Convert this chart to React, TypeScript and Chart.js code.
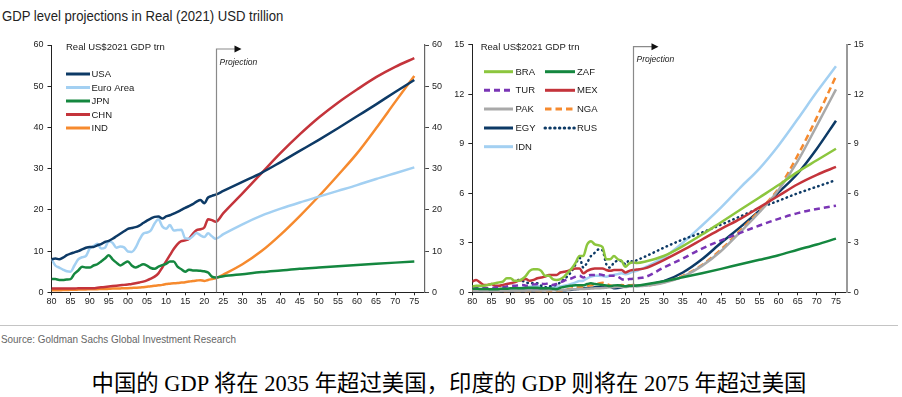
import React, { useEffect, useRef } from "react";
import { Chart, registerables } from "chart.js";

Chart.register(...registerables);

// ---------- DATA ----------
const years = [
  1980, 1981, 1982, 1983, 1984, 1985, 1986, 1987, 1988, 1989,
  1990, 1991, 1992, 1993, 1994, 1995, 1996, 1997, 1998, 1999,
  2000, 2001, 2002, 2003, 2004, 2005, 2006, 2007, 2008, 2009,
  2010, 2011, 2012, 2013, 2014, 2015, 2016, 2017, 2018, 2019,
  2020, 2021, 2022, 2023,
  2025, 2030, 2035, 2040, 2045, 2050, 2055, 2060, 2065, 2070, 2075,
];
const xTickValues = [1980, 1985, 1990, 1995, 2000, 2005, 2010, 2015, 2020, 2025, 2030, 2035, 2040, 2045, 2050, 2055, 2060, 2065, 2070, 2075];
const leftYTicks = [0, 10, 20, 30, 40, 50, 60];
const rightYTicks = [0, 3, 6, 9, 12, 15];
const leftProjectionYear = 2023;
const rightProjectionYear = 2022;

// Left panel (Real US$2021 GDP trn)
const usa = [
  8.0, 8.2, 8.0, 8.4, 9.0, 9.4, 9.7, 10.0, 10.4, 10.8,
  11.0, 11.0, 11.4, 11.7, 12.2, 12.5, 13.0, 13.6, 14.2, 14.8,
  15.4, 15.6, 15.8, 16.2, 16.8, 17.4, 17.9, 18.3, 18.4, 17.9,
  18.4, 18.7, 19.1, 19.5, 20.0, 20.5, 20.9, 21.4, 22.0, 22.4,
  21.6, 23.0, 23.4, 23.7,
  24.6, 26.8, 29.0, 31.6, 34.3, 37.0, 39.8, 42.7, 45.6, 48.6, 51.5,
];
const euroArea = [
  8.1, 6.5, 6.0, 5.5, 5.1, 5.0, 6.5, 8.0, 8.5, 8.8,
  10.6, 11.2, 11.8, 10.6, 10.8, 12.4, 12.0, 10.8, 11.1, 10.9,
  9.9, 9.8, 10.8, 12.7, 14.2, 14.5, 15.0, 16.7, 17.7, 16.0,
  15.4, 16.3, 15.0, 15.1, 15.2, 13.1, 13.0, 13.6, 14.4, 13.8,
  13.4, 14.3, 13.6, 13.0,
  14.1, 16.5, 18.6, 20.3, 21.8, 23.2, 24.6, 26.0, 27.5, 28.9, 30.3,
];
const jpn = [
  3.2, 3.2, 3.0, 3.0, 3.1, 3.2, 4.5, 5.3, 6.2, 6.0,
  6.0, 6.5, 6.8, 7.5, 8.2, 9.0, 8.0, 7.2, 6.5, 7.0,
  7.5, 6.5, 6.0, 6.4, 6.8, 6.5, 5.9, 5.7, 6.2, 6.6,
  6.9, 7.5, 7.5, 6.2, 5.6, 5.0, 5.5, 5.3, 5.3, 5.2,
  5.1, 4.8, 3.8, 3.6,
  3.9, 4.4, 4.9, 5.3, 5.7, 6.0, 6.3, 6.6, 6.9, 7.2, 7.5,
];
const chn = [
  0.9, 0.9, 0.9, 0.9, 0.9, 0.9, 0.9, 1.0, 1.0, 1.0,
  1.0, 1.0, 1.1, 1.2, 1.3, 1.4, 1.5, 1.6, 1.7, 1.8,
  1.9, 2.0, 2.2, 2.4, 2.6, 2.9, 3.3, 3.8, 4.6, 6.0,
  7.5, 9.0, 10.5, 11.7, 12.4, 12.6, 13.0, 14.2, 15.1, 15.3,
  15.7, 17.7, 17.5, 17.1,
  19.2, 24.0, 28.9, 33.8, 38.3, 42.4, 46.0, 49.2, 52.2, 54.7, 56.8,
];
const ind = [
  0.5, 0.5, 0.5, 0.55, 0.55, 0.6, 0.6, 0.65, 0.7, 0.7,
  0.75, 0.75, 0.75, 0.8, 0.8, 0.85, 0.9, 0.9, 0.95, 1.0,
  1.0, 1.05, 1.1, 1.15, 1.25, 1.35, 1.45, 1.6, 1.7, 1.8,
  2.0, 2.1, 2.2, 2.25, 2.35, 2.45, 2.6, 2.75, 2.85, 2.95,
  2.75, 3.0, 3.2, 3.4,
  4.3, 6.8, 10.0, 14.0, 18.5, 23.3, 28.4, 33.7, 39.8, 46.2, 52.5,
];

// Right panel (Real US$2021 GDP trn)
const bra = [
  0.35, 0.4, 0.4, 0.4, 0.45, 0.5, 0.55, 0.6, 0.65, 0.85,
  0.85, 0.7, 0.7, 0.8, 1.0, 1.3, 1.4, 1.4, 1.3, 1.0,
  1.0, 0.8, 0.75, 0.8, 0.95, 1.2, 1.45, 1.8, 2.2, 2.2,
  2.9, 3.1, 2.9, 2.85, 2.75, 2.0, 2.0, 2.2, 2.0, 1.9,
  1.55, 1.75, 1.8, 1.78,
  1.85, 2.2, 2.8, 3.5, 4.25, 5.0, 5.75, 6.5, 7.3, 8.0, 8.7,
];
const zaf = [
  0.2, 0.22, 0.2, 0.2, 0.2, 0.18, 0.18, 0.2, 0.22, 0.22,
  0.24, 0.25, 0.25, 0.25, 0.26, 0.28, 0.27, 0.27, 0.24, 0.24,
  0.24, 0.22, 0.2, 0.28, 0.33, 0.37, 0.4, 0.43, 0.42, 0.42,
  0.5, 0.55, 0.5, 0.47, 0.45, 0.42, 0.38, 0.42, 0.43, 0.4,
  0.36, 0.4, 0.4, 0.41,
  0.47, 0.67, 0.91, 1.16, 1.42, 1.7, 1.97, 2.25, 2.58, 2.9, 3.25,
];
const tur = [
  0.25, 0.25, 0.24, 0.24, 0.25, 0.26, 0.28, 0.3, 0.3, 0.35,
  0.4, 0.4, 0.42, 0.45, 0.4, 0.45, 0.48, 0.5, 0.52, 0.5,
  0.55, 0.45, 0.5, 0.6, 0.7, 0.8, 0.85, 0.95, 1.0, 0.9,
  1.0, 1.05, 1.05, 1.1, 1.05, 1.0, 1.0, 1.0, 0.95, 0.8,
  0.75, 0.8, 0.82, 0.85,
  0.91, 1.5, 2.05, 2.65, 3.15, 3.6, 4.05, 4.45, 4.8, 5.05, 5.25,
];
const mex = [
  0.65, 0.75, 0.6, 0.45, 0.45, 0.5, 0.4, 0.4, 0.45, 0.5,
  0.55, 0.6, 0.7, 0.75, 0.8, 0.7, 0.75, 0.85, 0.9, 0.95,
  1.05, 1.05, 1.05, 1.2, 1.25, 1.3, 1.4, 1.45, 1.45, 1.15,
  1.3, 1.4, 1.45, 1.45, 1.45, 1.35, 1.3, 1.35, 1.35, 1.35,
  1.2, 1.3, 1.35, 1.38,
  1.45, 1.95, 2.55, 3.2, 3.85, 4.45, 5.15, 5.85, 6.55, 7.12, 7.6,
];
const pak = [
  0.06, 0.06, 0.07, 0.07, 0.07, 0.08, 0.08, 0.08, 0.09, 0.09,
  0.09, 0.1, 0.1, 0.1, 0.1, 0.11, 0.11, 0.11, 0.11, 0.11,
  0.12, 0.12, 0.12, 0.13, 0.15, 0.16, 0.18, 0.19, 0.2, 0.2,
  0.21, 0.23, 0.24, 0.25, 0.26, 0.28, 0.3, 0.31, 0.33, 0.32,
  0.32, 0.35, 0.37, 0.38,
  0.4, 0.58, 0.95, 1.6, 2.5, 3.65, 4.85, 6.2, 7.95, 10.1, 12.3,
];
const nga = [
  0.12, 0.1, 0.08, 0.07, 0.06, 0.06, 0.05, 0.04, 0.04, 0.04,
  0.05, 0.05, 0.04, 0.04, 0.04, 0.05, 0.06, 0.06, 0.05, 0.05,
  0.06, 0.07, 0.08, 0.1, 0.13, 0.18, 0.23, 0.27, 0.33, 0.3,
  0.38, 0.42, 0.47, 0.53, 0.58, 0.5, 0.42, 0.38, 0.4, 0.44,
  0.42, 0.42, 0.45, 0.42,
  0.42, 0.6, 1.0, 1.65, 2.6, 3.75, 4.95, 6.3, 8.3, 10.6, 13.1,
];
const egy = [
  0.05, 0.06, 0.07, 0.07, 0.08, 0.08, 0.08, 0.08, 0.09, 0.09,
  0.08, 0.08, 0.09, 0.09, 0.1, 0.11, 0.12, 0.13, 0.14, 0.15,
  0.16, 0.16, 0.14, 0.13, 0.13, 0.14, 0.16, 0.19, 0.22, 0.24,
  0.26, 0.27, 0.3, 0.3, 0.3, 0.33, 0.34, 0.24, 0.26, 0.3,
  0.36, 0.4, 0.4, 0.38,
  0.42, 0.67, 1.2, 2.0, 3.0, 3.95, 4.95, 6.05, 7.2, 8.7, 10.4,
];
const rus = [
  null, null, null, null, null, null, null, null, null, null,
  null, null, 0.75, 0.7, 0.6, 0.55, 0.55, 0.55, 0.4, 0.3,
  0.35, 0.4, 0.45, 0.6, 0.8, 1.0, 1.3, 1.7, 2.1, 1.5,
  1.8, 2.2, 2.4, 2.6, 2.55, 1.7, 1.5, 1.8, 1.9, 1.9,
  1.7, 1.95, 1.85, 1.95,
  2.15, 2.7, 3.2, 3.62, 4.1, 4.6, 5.1, 5.55, 6.0, 6.4, 6.8,
];
const idn = [
  0.13, 0.15, 0.15, 0.15, 0.16, 0.16, 0.16, 0.17, 0.18, 0.2,
  0.22, 0.24, 0.26, 0.28, 0.31, 0.34, 0.38, 0.4, 0.26, 0.26,
  0.28, 0.29, 0.32, 0.36, 0.4, 0.45, 0.52, 0.6, 0.68, 0.7,
  0.85, 0.95, 1.0, 1.0, 0.98, 0.95, 1.0, 1.05, 1.1, 1.15,
  1.1, 1.15, 1.25, 1.3,
  1.5, 2.1, 3.0, 4.05, 5.15, 6.35, 7.5, 8.9, 10.5, 12.15, 13.7,
];

// ---------- STYLES ----------
const NAVY = "#0d3a66";
const LIGHTBLUE = "#a3d0f2";
const DKGREEN = "#14873f";
const RED = "#c4343b";
const ORANGE = "#f68a2e";
const LTGREEN = "#8cc63e";
const PURPLE = "#7a35b5";
const GRAY = "#a9a9a9";

const FONT = '"Liberation Sans", Arial, sans-serif';

function series(label: string, values: (number | null)[], color: string, extra: any = {}) {
  return {
    label,
    data: years.map((yr, i) => ({ x: yr, y: values[i] })),
    borderColor: color,
    backgroundColor: color,
    borderWidth: 2.5,
    pointRadius: 0,
    fill: false,
    cubicInterpolationMode: "monotone",
    spanGaps: false,
    ...extra,
  };
}

function legendPlugin(cfg: any) {
  return {
    id: "insideLegend",
    afterDraw(chart: any) {
      const ctx = chart.ctx;
      ctx.save();
      ctx.textBaseline = "middle";
      ctx.textAlign = "left";
      ctx.fillStyle = "#1a1a1a";
      ctx.font = `9.5px ${FONT}`;
      ctx.fillText(cfg.title, cfg.titleX, cfg.titleY);
      cfg.items.forEach((it: any) => {
        const ds = chart.data.datasets[it.i];
        ctx.strokeStyle = ds.borderColor;
        ctx.lineWidth = 3;
        ctx.lineCap = ds.borderCapStyle || "butt";
        ctx.setLineDash(ds.borderDash || []);
        ctx.beginPath();
        ctx.moveTo(it.x1, it.y);
        ctx.lineTo(it.x2, it.y);
        ctx.stroke();
        ctx.setLineDash([]);
        ctx.fillStyle = "#1a1a1a";
        ctx.fillText(ds.label, it.tx, it.y + 0.5);
      });
      ctx.restore();
    },
  };
}

function projectionPlugin(year: number, topY: number, textY: number) {
  return {
    id: "projection",
    afterDatasetsDraw(chart: any) {
      const ctx = chart.ctx;
      const x = Math.round(chart.scales.x.getPixelForValue(year)) + 0.5;
      const bottom = chart.chartArea.bottom;
      ctx.save();
      ctx.strokeStyle = "#8a8a8a";
      ctx.lineWidth = 1.2;
      ctx.beginPath();
      ctx.moveTo(x, bottom);
      ctx.lineTo(x, topY);
      ctx.lineTo(x + 19, topY);
      ctx.stroke();
      ctx.fillStyle = "#111";
      ctx.beginPath();
      ctx.moveTo(x + 18, topY - 3.5);
      ctx.lineTo(x + 25, topY);
      ctx.lineTo(x + 18, topY + 3.5);
      ctx.closePath();
      ctx.fill();
      ctx.font = `italic 8.5px ${FONT}`;
      ctx.fillStyle = "#222";
      ctx.textBaseline = "middle";
      ctx.fillText("Projection", x + 3, textY);
      ctx.restore();
    },
  };
}

function buildOptions(p: any) {
  const tickFont = { family: FONT, size: 9 };
  return {
    responsive: false,
    animation: false,
    devicePixelRatio: 1,
    events: [],
    layout: { padding: { top: p.padTop, left: 0, right: 0, bottom: 0 } },
    plugins: { legend: { display: false }, tooltip: { enabled: false }, title: { display: false } },
    scales: {
      x: {
        type: "linear",
        min: 1980,
        max: 2077.8,
        afterBuildTicks: (s: any) => {
          s.ticks = xTickValues.map((v) => ({ value: v }));
        },
        afterFit: (s: any) => {
          s.height = p.xHeight;
        },
        ticks: {
          autoSkip: false,
          maxRotation: 0,
          padding: 1,
          color: "#222",
          font: tickFont,
          callback: (v: any) => String(Number(v) % 100).padStart(2, "0"),
        },
        grid: { display: true, drawOnChartArea: false, drawTicks: true, tickLength: 3, color: "#222", lineWidth: 1 },
        border: { display: true, color: "#222", width: 1 },
      },
      y: {
        type: "linear",
        position: "left",
        min: 0,
        max: p.yMax,
        afterBuildTicks: (s: any) => {
          s.ticks = p.yTicks.map((v: number) => ({ value: v }));
        },
        afterFit: (s: any) => {
          s.width = p.leftW;
        },
        ticks: { padding: 4, color: "#222", font: tickFont },
        grid: { display: true, drawOnChartArea: false, drawTicks: true, tickLength: 4, color: "#222" },
        border: { display: true, color: "#222", width: 1 },
      },
      y2: {
        type: "linear",
        position: "right",
        min: 0,
        max: p.yMax,
        afterBuildTicks: (s: any) => {
          s.ticks = p.yTicks.map((v: number) => ({ value: v }));
        },
        afterFit: (s: any) => {
          s.width = p.rightW;
        },
        ticks: { padding: 3, color: "#222", font: tickFont },
        grid: { display: true, drawOnChartArea: false, drawTicks: true, tickLength: 4, color: "#444" },
        border: { display: true, color: p.rightAxisColor, width: p.rightAxisWidth },
      },
    },
  };
}

function useChart(ref: any, makeConfig: () => any) {
  useEffect(() => {
    if (!ref.current) return;
    const chart = new Chart(ref.current, makeConfig());
    return () => chart.destroy();
  }, []);
}

export default function App() {
  const leftRef = useRef<HTMLCanvasElement>(null);
  const rightRef = useRef<HTMLCanvasElement>(null);

  useChart(leftRef, () => ({
    type: "line",
    data: {
      datasets: [
        series("USA", usa, NAVY),
        series("Euro Area", euroArea, LIGHTBLUE),
        series("JPN", jpn, DKGREEN),
        series("CHN", chn, RED),
        series("IND", ind, ORANGE),
      ],
    },
    options: buildOptions({
      padTop: 15,
      xHeight: 22.7,
      leftW: 51.5,
      rightW: 25,
      yMax: 60,
      yTicks: leftYTicks,
      rightAxisColor: "#666",
      rightAxisWidth: 1.2,
    }),
    plugins: [
      projectionPlugin(leftProjectionYear, 19, 32.7),
      legendPlugin({
        title: "Real US$2021 GDP trn",
        titleX: 66,
        titleY: 17.5,
        items: [
          { i: 0, x1: 66, x2: 90, tx: 91.5, y: 44 },
          { i: 1, x1: 66, x2: 90, tx: 91.5, y: 57.5 },
          { i: 2, x1: 66, x2: 90, tx: 91.5, y: 71 },
          { i: 3, x1: 66, x2: 90, tx: 91.5, y: 84.5 },
          { i: 4, x1: 66, x2: 90, tx: 91.5, y: 98 },
        ],
      }),
    ],
  }));

  useChart(rightRef, () => ({
    type: "line",
    data: {
      datasets: [
        series("BRA", bra, LTGREEN),
        series("ZAF", zaf, DKGREEN),
        series("TUR", tur, PURPLE, { borderDash: [6, 4] }),
        series("MEX", mex, RED),
        series("PAK", pak, GRAY),
        series("NGA", nga, ORANGE, { borderDash: [6.5, 4] }),
        series("EGY", egy, NAVY),
        series("RUS", rus, NAVY, { borderDash: [0.5, 4.3], borderCapStyle: "round" }),
        series("IDN", idn, LIGHTBLUE),
      ],
    },
    options: buildOptions({
      padTop: 14.8,
      xHeight: 22.7,
      leftW: 22.3,
      rightW: 55.3,
      yMax: 15,
      yTicks: rightYTicks,
      rightAxisColor: "#9a9a9a",
      rightAxisWidth: 2,
    }),
    plugins: [
      projectionPlugin(rightProjectionYear, 16.7, 30),
      legendPlugin({
        title: "Real US$2021 GDP trn",
        titleX: 30.7,
        titleY: 17,
        items: [
          { i: 0, x1: 34, x2: 63, tx: 65.5, y: 41.7 },
          { i: 1, x1: 95, x2: 125, tx: 127, y: 41.7 },
          { i: 2, x1: 34, x2: 63, tx: 65.5, y: 60.3 },
          { i: 3, x1: 95, x2: 125, tx: 127, y: 60.3 },
          { i: 4, x1: 34, x2: 63, tx: 65.5, y: 79 },
          { i: 5, x1: 95, x2: 125, tx: 127, y: 79 },
          { i: 6, x1: 34, x2: 63, tx: 65.5, y: 98 },
          { i: 7, x1: 95, x2: 125, tx: 127, y: 98 },
          { i: 8, x1: 34, x2: 63, tx: 65.5, y: 116.7 },
        ],
      }),
    ],
  }));

  return (
    <div style={{ position: "absolute", left: 0, top: 0, width: 902, height: 397, background: "#fff", overflow: "hidden" }}>
      <div
        style={{
          position: "absolute",
          left: 2,
          top: 6,
          fontFamily: FONT,
          fontSize: 15,
          lineHeight: "20px",
          color: "#222",
          whiteSpace: "nowrap",
          transform: "scaleX(0.875)",
          transformOrigin: "left center",
        }}
      >
        GDP level projections in Real (2021) USD trillion
      </div>
      <canvas ref={leftRef} width={450} height={285} style={{ position: "absolute", left: 0, top: 30, width: 450, height: 285 }} />
      <canvas ref={rightRef} width={452} height={285} style={{ position: "absolute", left: 450, top: 30, width: 452, height: 285 }} />
      <div style={{ position: "absolute", left: 0, top: 324.5, width: 898, height: 1, background: "#c4c4c4" }} />
      <div
        style={{
          position: "absolute",
          left: 1,
          top: 332,
          fontFamily: FONT,
          fontSize: 11,
          lineHeight: "14px",
          color: "#666",
          whiteSpace: "nowrap",
          transform: "scaleX(0.9)",
          transformOrigin: "left center",
        }}
      >
        Source: Goldman Sachs Global Investment Research
      </div>
      <div
        style={{
          position: "absolute",
          left: 0,
          top: 370,
          width: 898,
          textAlign: "center",
          fontFamily: '"Liberation Serif", "Noto Sans CJK SC", serif',
          fontSize: 22.4,
          lineHeight: "28px",
          color: "#000",
          whiteSpace: "nowrap",
        }}
      >
        中国的 GDP 将在 2035 年超过美国，印度的 GDP 则将在 2075 年超过美国
      </div>
    </div>
  );
}
